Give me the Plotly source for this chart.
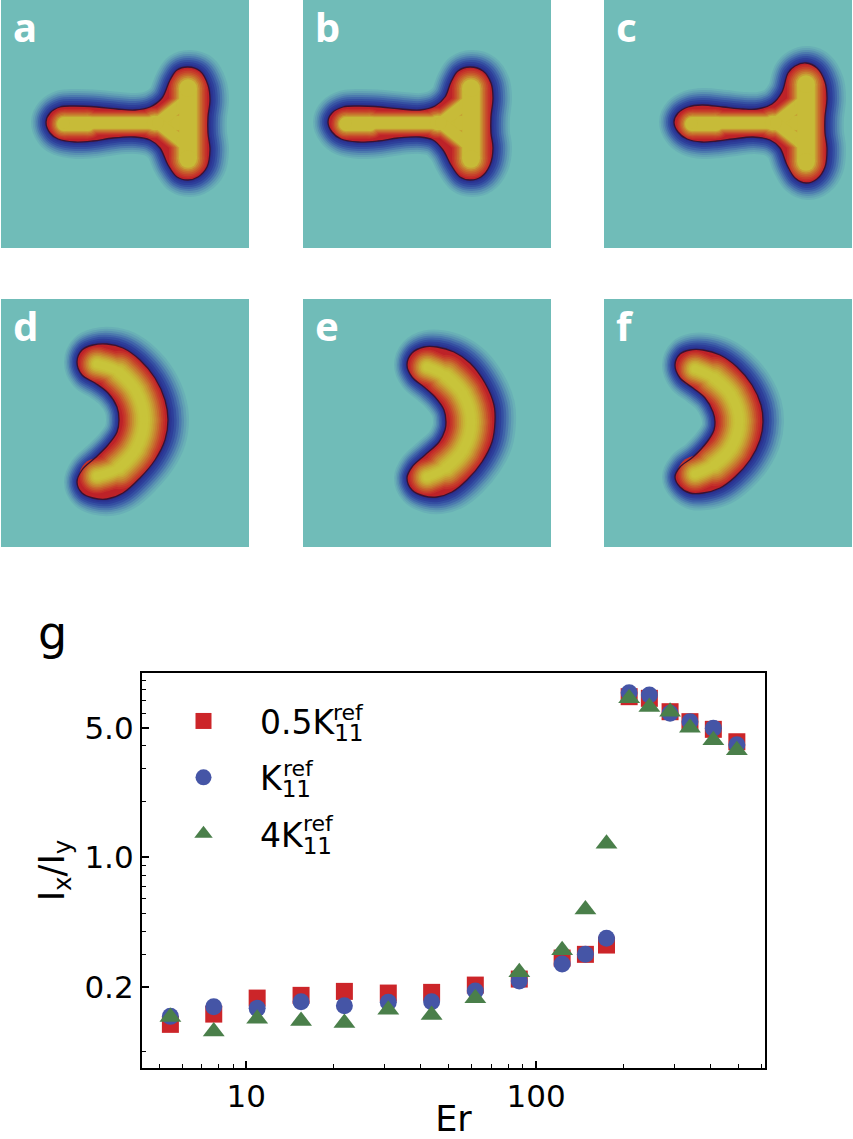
import plotly.graph_objects as go

W, H = 853, 1139

# ---------- panel g data ----------
ER = [5.47, 7.72, 10.9, 15.45, 21.8, 30.9, 43.6, 61.7, 87.5, 123, 148, 175, 209.5, 246, 290, 339.6, 409, 493]
RATIO_HALF = [.1257, .1428, .1742, .1802, .1893, .1854, .1870, .2047, .2206, .2863, .2998, .3365, 7.35, 7.20, 6.10, 5.39, 4.90, 4.20]
RATIO_ONE = [.1388, .1564, .1533, .1664, .1583, .1652, .1664, .1901, .2152, .2658, .2998, .3657, 7.72, 7.51, 5.98, 5.39, 4.96, 4.05]
RATIO_FOUR = [.1379, .1150, .1346, .1312, .1280, .1505, .1414, .1736, .2397, .3151, .5230, 1.183, 7.21, 6.47, 6.09, 5.00, 4.28, 3.78]
SERIES_NAMES = ["0.5K<sub>11</sub>", "K<sub>11</sub>", "4K<sub>11</sub>"]
X_TICKS = [10, 100]
Y_TICKS = [0.2, 1.0, 5.0]
Y_TICK_TEXT = ["0.2", "1.0", "5.0"]
X_MINOR = [5, 6, 7, 8, 9, 20, 30, 40, 50, 60, 70, 80, 90, 200, 300, 400, 500, 600]
Y_MINOR = [0.09, 0.3, 0.4, 0.5, 0.6, 0.7, 0.8, 0.9, 2, 3, 4, 6, 7, 8, 9]

# ---------- droplet outlines of panels a-f ----------
A_X = [45, 49, 59, 72, 96, 116, 134, 149, 161, 169, 176, 187, 199, 207, 209, 207, 207, 209, 206, 197, 187, 176, 167, 159, 149, 134, 112, 92, 74, 57, 49]
A_Y = [122, 113, 107, 106, 107, 109, 110, 107, 98, 80, 70, 67, 71, 85, 100, 117, 133, 150, 167, 177, 180, 177, 165, 148, 140, 137, 138, 141, 142, 139, 133]
B_X = [25, 29, 40, 55, 78, 98, 117, 132, 142, 148, 155, 167, 180, 188, 190, 188, 188, 190, 187, 178, 167, 157, 148, 140, 130, 117, 95, 75, 55, 38, 29]
B_Y = [122, 113, 107, 106, 107, 109, 110, 106, 97, 82, 71, 67, 71, 83, 98, 117, 133, 148, 165, 177, 180, 177, 165, 150, 140, 137, 138, 141, 142, 139, 132]
C_X = [70, 74, 84, 98, 119, 139, 153, 168, 178, 184, 191, 202, 213, 221, 223, 221, 221, 223, 221, 213, 202, 191, 183, 176, 166, 149, 129, 113, 98, 83, 74]
C_Y = [122, 113, 107, 105, 107, 109, 109, 104, 92, 73, 66, 63, 68, 82, 98, 117, 133, 148, 167, 179, 183, 178, 165, 148, 140, 137, 139, 141, 142, 139, 132]
D_X = [76, 81, 92, 106, 122, 139, 154, 164, 167, 164, 154, 139, 122, 106, 92, 81, 76, 81, 94, 107, 116, 118, 116, 107, 94, 81]
D_Y = [63, 51, 46, 45, 49, 61, 79, 101, 121, 141, 161, 179, 194, 200, 199, 194, 183, 171, 159, 146, 133, 121, 108, 94, 84, 76]
E_X = [104, 109, 121, 134, 151, 167, 182, 191, 192, 189, 179, 164, 149, 134, 121, 109, 104, 109, 122, 136, 142, 143, 141, 132, 121, 109]
E_Y = [66, 54, 48, 48, 53, 64, 84, 106, 123, 143, 163, 181, 193, 198, 197, 191, 179, 168, 156, 143, 131, 123, 111, 98, 88, 78]
F_X = [71, 76, 86, 99, 116, 133, 148, 157, 159, 156, 146, 131, 116, 99, 86, 76, 71, 76, 89, 103, 110, 111, 109, 101, 89, 76]
F_Y = [66, 55, 51, 51, 56, 68, 86, 106, 123, 141, 161, 178, 189, 194, 194, 188, 178, 168, 158, 143, 131, 123, 113, 99, 89, 79]

# centre lines of the yellow core
D_MID_X = [96, 118, 135, 143, 135, 118, 96]
D_MID_Y = [65, 73, 92, 121, 150, 169, 177]
E_MID_X = [124, 143, 160, 168, 160, 143, 124]
E_MID_Y = [68, 77, 95, 123, 151, 169, 178]
F_MID_X = [91, 110, 127, 135, 127, 110, 91]
F_MID_Y = [70, 79, 96, 122, 149, 166, 175]
T_TIP = [45, 25, 70]
T_BAR = [187, 168, 202]
T_TOP = [88, 88, 84]
T_BOT = [159, 159, 162]

PANEL_LABELS = ["a", "b", "c", "d", "e", "f"]
PANEL_LEFT = [1, 303, 604, 1, 303, 604]
PANEL_TOP = [0, 0, 0, 299, 299, 299]
PANEL_SIZE = 248

TEAL = "#70bcb8"
HALO = [(17, "#69b0b6"), (15, "#62a2b4"), (13, "#5890b1"), (11, "#4c7aae"), (9, "#4064a9"), (7, "#3550a2"), (5, "#2e3f9a"), (3, "#2b3593"), (1.5, "#2a2e88")]
CORE = [(.9, "#c4302a"), (.82, "#c6402b"), (.74, "#c7552c"), (.66, "#c76b2e"), (.58, "#c78030"), (.5, "#c79432"), (.42, "#c7a634"), (.34, "#c7b536"), (.26, "#c7bf38"), (.18, "#c8c43a")]
T_CORE = [(.9, "#c4302a"), (.82, "#c6402b"), (.74, "#c7552c"), (.66, "#c76b2e"), (.58, "#c78330"), (.5, "#c7a034"), (.42, "#c7bb38")]


def dom_x(l, r):
    return [l / W, r / W]


def dom_y(t, b):
    return [1 - b / H, 1 - t / H]


fig = go.Figure()
layout = {}
shapes = []
annotations = []


def stroke(ax, xs, ys, width, color, marker=False):
    fig.add_trace(go.Scatter(
        x=xs, y=ys, xaxis=f"x{ax}", yaxis=f"y{ax}",
        mode="lines+markers" if marker else "lines",
        line=dict(shape="spline", smoothing=1, width=width, color=color),
        marker=dict(size=width, color=color, line=dict(width=0)),
        hoverinfo="skip", showlegend=False))


def droplet(ax, xs, ys, segments, halo_shift, ramp):
    cx, cy = xs + xs[:1], ys + ys[:1]
    for d, col in HALO:
        sh = halo_shift * d / 17
        stroke(ax, [v + sh for v in cx], cy, 2 * d, col)
    fig.add_trace(go.Scatter(
        x=cx, y=cy, xaxis=f"x{ax}", yaxis=f"y{ax}", mode="lines", fill="toself",
        fillcolor="#bd2228", line=dict(shape="spline", smoothing=1, width=0, color="#bd2228"),
        hoverinfo="skip", showlegend=False))
    for f, col in ramp:
        for sx, sy, r in segments:
            stroke(ax, sx, sy, 2 * r * f, col, marker=True)
    stroke(ax, cx, cy, 1.3, "#3a1232")


outlines = [(A_X, A_Y), (B_X, B_Y), (C_X, C_Y), (D_X, D_Y), (E_X, E_Y), (F_X, F_Y)]
mids = [(D_MID_X, D_MID_Y), (E_MID_X, E_MID_Y), (F_MID_X, F_MID_Y)]

for i in range(6):
    ax = i + 1
    l, t = PANEL_LEFT[i], PANEL_TOP[i]
    xname, yname = ("xaxis" if ax == 1 else f"xaxis{ax}"), ("yaxis" if ax == 1 else f"yaxis{ax}")
    layout[xname] = dict(domain=dom_x(l, l + PANEL_SIZE), range=[0, PANEL_SIZE], visible=False, anchor=f"y{ax}" if ax > 1 else "y")
    layout[yname] = dict(domain=dom_y(t, t + PANEL_SIZE), range=[PANEL_SIZE, 0], visible=False, anchor=f"x{ax}" if ax > 1 else "x")
    suffix = "" if ax == 1 else str(ax)
    shapes.append(dict(type="rect", xref=f"x{suffix} domain", yref=f"y{suffix} domain", x0=0, x1=1, y0=0, y1=1,
                       fillcolor=TEAL, line=dict(width=0), layer="below"))
    xs, ys = outlines[i]
    if i < 3:
        tip, bar, top, bot = T_TIP[i], T_BAR[i], T_TOP[i], T_BOT[i]
        segs = [
            ([tip + 18, tip + 42], [124, 124], 16.5),
            ([tip + 18, bar - 25], [123, 123], 13.5),
            ([bar - 34, bar - 10], [123, 123], 17),
            ([bar - 30, bar - 6], [123, 104], 14),
            ([bar - 30, bar - 6], [123, 142], 14),
            ([bar, bar], [top, bot], 21),
        ]
        droplet(ax, xs, ys, segs, 2, T_CORE)
    else:
        mx, my = mids[i - 3]
        segs = [(mx, my, 19.5), (mx[1:-1], my[1:-1], 23.5)]
        droplet(ax, xs, ys, segs, 4, CORE)
    annotations.append(dict(text=f"<b>{PANEL_LABELS[i]}</b>", xref="paper", yref="paper", showarrow=False,
                            x=(l + 10) / W, y=1 - (t + 27) / H, xanchor="left", yanchor="middle",
                            font=dict(family="Noto Sans", size=40, color="white")))

# ---------- panel g ----------
SYMBOLS = ["square", "circle", "triangle-up"]
COLORS = ["#cc2529", "#4555a6", "#4a7f4a"]
SIZES = [17, 17, 19]
for k, vals in enumerate([RATIO_HALF, RATIO_ONE, RATIO_FOUR]):
    fig.add_trace(go.Scatter(x=ER, y=vals, xaxis="x7", yaxis="y7", mode="markers", name=SERIES_NAMES[k],
                             legendgroup=str(k),
                             marker=dict(symbol=SYMBOLS[k], size=SIZES[k], color=COLORS[k], line=dict(width=0))))

TICK_FONT = dict(family="DejaVu Sans", size=31, color="black")
TITLE_FONT = dict(family="DejaVu Sans", size=35, color="black")
layout["xaxis7"] = dict(domain=dom_x(142, 765), type="log", range=[0.640, 2.790], anchor="y7",
                        tickmode="array", tickvals=X_TICKS, ticktext=["10", "100"], ticks="inside", ticklen=7, tickwidth=1.5,
                        tickcolor="black", tickfont=TICK_FONT, showgrid=False, zeroline=False, showline=True, linecolor="black",
                        linewidth=2.2, mirror=True, minor=dict(tickmode="array", tickvals=X_MINOR, ticks="inside", ticklen=3.5, tickwidth=1.2, tickcolor="black", showgrid=False),
                        title=dict(text="Er", font=TITLE_FONT, standoff=12))
layout["yaxis7"] = dict(domain=dom_y(673, 1068), type="log", range=[-1.136, 0.994], anchor="x7",
                        tickmode="array", tickvals=Y_TICKS, ticktext=Y_TICK_TEXT, ticks="inside", ticklen=7, tickwidth=1.5,
                        tickcolor="black", tickfont=TICK_FONT, showgrid=False, zeroline=False, showline=True, linecolor="black",
                        linewidth=2.2, mirror=True, minor=dict(tickmode="array", tickvals=Y_MINOR, ticks="inside", ticklen=3.5, tickwidth=1.2, tickcolor="black", showgrid=False),
                        title=dict(text="I<sub>x</sub>/I<sub>y</sub>", font=TITLE_FONT, standoff=9))

annotations.append(dict(text="g", xref="paper", yref="paper", showarrow=False, x=36 / W, y=1 - 633 / H,
                        xanchor="left", yanchor="middle", font=dict(family="DejaVu Sans", size=46, color="black")))
for label_x, label_y in [(348, 712), (298, 768), (318, 823)]:
    annotations.append(dict(text="ref", xref="paper", yref="paper", showarrow=False, x=label_x / W, y=1 - label_y / H,
                            xanchor="center", yanchor="middle", font=dict(family="DejaVu Sans", size=22, color="black")))

fig.update_layout(
    width=W, height=H, margin=dict(l=0, r=0, t=0, b=0, autoexpand=False),
    paper_bgcolor="white", plot_bgcolor="rgba(0,0,0,0)",
    shapes=shapes, annotations=annotations,
    legend=dict(x=147 / W, y=1 - 693 / H, xanchor="left", yanchor="top", bgcolor="rgba(0,0,0,0)", borderwidth=0,
                itemsizing="trace", itemwidth=103, tracegroupgap=10.5, traceorder="grouped", itemclick=False,
                font=dict(family="DejaVu Sans", size=33, color="black")),
    **layout)

fig.write_html("out.html", config={"displayModeBar": False},
               post_script="document.body.style.margin='0';document.body.style.overflow='hidden';")
